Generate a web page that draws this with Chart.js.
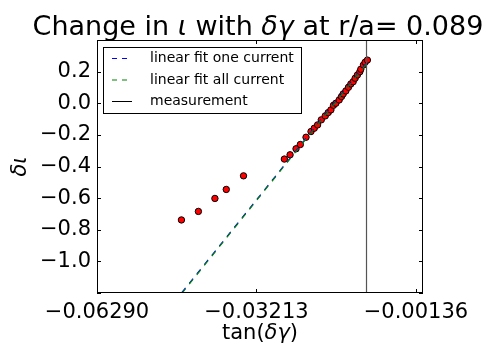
<!DOCTYPE html>
<html>
<head>
<meta charset="utf-8">
<script src="https://cdn.jsdelivr.net/npm/chart.js@4.4.1/dist/chart.umd.min.js"></script>
<style>
  html, body { margin: 0; padding: 0; background: #fff; }
  #wrap { width: 486px; height: 345px; }
</style>
</head>
<body>
<div id="wrap"><canvas id="chart" width="486" height="345"></canvas></div>
<script>
// measured points: tan(delta gamma) vs delta iota
const tanDg = [
  -0.04661, -0.04334, -0.04015, -0.03796, -0.03463,
  -0.02675, -0.02565, -0.02450, -0.02367, -0.02257, -0.02161,
  -0.02098, -0.02034, -0.01963, -0.01886, -0.01829, -0.01777,
  -0.01727, -0.01681, -0.01617, -0.01573, -0.01540, -0.01488,
  -0.01438, -0.01392, -0.01348, -0.01309, -0.01265, -0.01219,
  -0.01200, -0.01150, -0.01117, -0.01073
];
const dIota = [
  -0.738, -0.684, -0.602, -0.545, -0.459,
  -0.353, -0.326, -0.288, -0.261, -0.215, -0.179,
  -0.158, -0.137, -0.105, -0.080, -0.059, -0.042,
  -0.013, 0.000, 0.021, 0.042, 0.059, 0.078,
  0.101, 0.122, 0.136, 0.158, 0.179, 0.199,
  0.215, 0.242, 0.259, 0.273
];

// linear fits (end points)
const fitX = [-0.0480, -0.0105];
const fitOneY = [-1.257, 0.270];
const fitAllY = [-1.262, 0.266];

// measurement position
const measX = -0.0109;
const measY = [-1.3, 0.5];

const xTicks = [-0.06290, -0.03213, -0.00136];
const yMin = -1.2, yMax = 0.4;

const FONT = '"DejaVu Sans", sans-serif';
const minus = s => s.replace('-', '\u2212');

// draws a mixed normal / italic string
function richText(ctx, parts, x, y, size, align) {
  let w = 0;
  parts.forEach(p => {
    ctx.font = (p.it ? 'italic ' : '') + size + 'px ' + FONT;
    w += ctx.measureText(p.t).width;
  });
  let cx = align === 'center' ? x - w / 2 : x;
  parts.forEach(p => {
    ctx.font = (p.it ? 'italic ' : '') + size + 'px ' + FONT;
    ctx.fillText(p.t, cx, y);
    cx += ctx.measureText(p.t).width;
  });
}

const decor = {
  id: 'decor',
  afterDraw(chart) {
    const ctx = chart.ctx;
    const a = chart.chartArea;
    const xs = chart.scales.x, ys = chart.scales.y;
    ctx.save();
    ctx.fillStyle = '#000';
    ctx.strokeStyle = '#000';
    ctx.lineWidth = 1;

    // frame
    ctx.strokeRect(a.left + 0.5, a.top + 0.5, a.right - a.left - 1, a.bottom - a.top - 1);

    // inward ticks on all sides
    ctx.beginPath();
    xs.ticks.forEach(t => {
      const px = Math.round(xs.getPixelForValue(t.value)) + 0.5;
      ctx.moveTo(px, a.bottom); ctx.lineTo(px, a.bottom - 4);
      ctx.moveTo(px, a.top); ctx.lineTo(px, a.top + 4);
    });
    ys.ticks.forEach(t => {
      const py = Math.round(ys.getPixelForValue(t.value)) + 0.5;
      ctx.moveTo(a.left, py); ctx.lineTo(a.left + 4, py);
      ctx.moveTo(a.right, py); ctx.lineTo(a.right - 4, py);
    });
    ctx.stroke();

    // title
    ctx.textBaseline = 'alphabetic';
    richText(ctx, [
      { t: 'Change in ' }, { t: '\u03b9', it: true }, { t: ' with ' },
      { t: '\u03b4\u03b3', it: true }, { t: ' at r/a= 0.089' }
    ], 258, 35, 27, 'center');

    // x label
    richText(ctx, [{ t: 'tan(' }, { t: '\u03b4\u03b3', it: true }, { t: ')' }],
      (a.left + a.right) / 2, 339, 21, 'center');

    // y label
    ctx.save();
    ctx.translate(26, (a.top + a.bottom) / 2);
    ctx.rotate(-Math.PI / 2);
    richText(ctx, [{ t: '\u03b4\u03b9', it: true }], 0, 0, 21, 'center');
    ctx.restore();

    // legend box
    const lx = 103, ly = 47, lw = 198, lh = 66;
    ctx.fillStyle = '#fff';
    ctx.fillRect(lx, ly, lw, lh);
    ctx.strokeRect(lx + 0.5, ly + 0.5, lw, lh);
    const rows = [
      { label: 'linear fit one current', color: '#0000ff', dash: [5, 5] },
      { label: 'linear fit all current', color: '#008000', dash: [5, 5] },
      { label: 'measurement', color: '#000000', dash: [] }
    ];
    ctx.font = '14px ' + FONT;
    ctx.textBaseline = 'middle';
    rows.forEach((r, i) => {
      const y = ly + 11.5 + i * 21.5;
      ctx.beginPath();
      ctx.setLineDash(r.dash);
      ctx.strokeStyle = r.color;
      ctx.moveTo(112, y); ctx.lineTo(132, y);
      ctx.stroke();
      ctx.setLineDash([]);
      ctx.fillStyle = '#000';
      ctx.fillText(r.label, 150, y);
    });
    ctx.restore();
  }
};

const ctx = document.getElementById('chart').getContext('2d');
new Chart(ctx, {
  type: 'scatter',
  data: {
    datasets: [
      {
        type: 'line',
        label: 'linear fit all current',
        data: fitX.map((x, i) => ({ x, y: fitAllY[i] })),
        borderColor: '#008000',
        borderDash: [6, 6],
        borderWidth: 1.2,
        pointRadius: 0,
        fill: false
      },
      {
        type: 'line',
        label: 'linear fit one current',
        data: fitX.map((x, i) => ({ x, y: fitOneY[i] })),
        borderColor: '#0000ff',
        borderDash: [6, 6],
        borderWidth: 1.2,
        pointRadius: 0,
        fill: false
      },
      {
        type: 'line',
        label: 'measurement',
        data: measY.map(y => ({ x: measX, y })),
        borderColor: '#555555',
        borderWidth: 1.2,
        pointRadius: 0,
        fill: false
      },
      {
        label: 'data',
        data: tanDg.map((x, i) => ({ x, y: dIota[i] })),
        backgroundColor: '#ff0000',
        borderColor: '#000000',
        borderWidth: 1,
        pointRadius: 3.2
      }
    ]
  },
  options: {
    responsive: false,
    animation: false,
    events: [],
    layout: { padding: { left: 0, top: 40, right: 63, bottom: 0 } },
    plugins: {
      legend: { display: false },
      title: { display: false },
      tooltip: { enabled: false }
    },
    scales: {
      x: {
        type: 'linear',
        min: -0.0629,
        max: 0,
        afterBuildTicks: s => { s.ticks = xTicks.map(v => ({ value: v })); },
        afterFit: s => { s.height = 52; },
        grid: { display: false, drawTicks: false },
        border: { display: false },
        ticks: {
          autoSkip: false,
          maxRotation: 0,
          padding: 7,
          color: '#000',
          font: { family: FONT, size: 21 },
          callback: v => minus(v.toFixed(5))
        }
      },
      y: {
        min: yMin,
        max: yMax,
        afterFit: s => { s.width = 97; },
        grid: { display: false, drawTicks: false },
        border: { display: false },
        ticks: {
          stepSize: 0.2,
          padding: 6,
          color: '#000',
          font: { family: FONT, size: 21 },
          callback: v => {
            const r = Math.round(v * 10) / 10;
            if (r <= yMin + 1e-9 || r >= yMax - 1e-9) return '';
            return minus(r.toFixed(1));
          }
        }
      }
    }
  },
  plugins: [decor]
});
</script>
</body>
</html>
